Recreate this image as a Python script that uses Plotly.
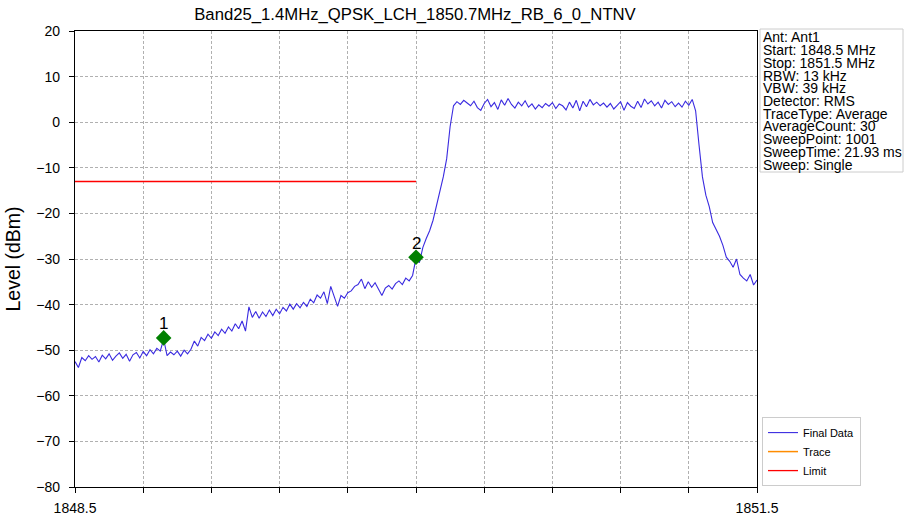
import numpy as np
import plotly.graph_objects as go

title_text = "Band25_1.4MHz_QPSK_LCH_1850.7MHz_RB_6_0_NTNV"
start_mhz = 1848.5
stop_mhz = 1851.5

levels_low = [
    -52.5, -53.8, -51.6, -52.3, -51.2, -52.0, -51.4, -52.6, -51.1, -51.9,
    -50.8, -52.2, -51.3, -50.6, -51.8, -50.9, -52.4, -51.0, -50.5, -51.7,
    -50.3, -51.2, -49.9, -50.8, -49.6, -50.2, -47.6,
    -51.2, -50.4, -51.0, -50.2, -51.3, -50.0, -50.8, -49.8,
    -48.0, -49.1, -47.2, -47.9, -46.5, -47.4, -46.0, -46.8, -45.4, -46.3,
    -44.9, -45.8, -44.2, -45.3, -43.6, -45.8, -40.5,
    -42.8, -41.5, -43.0, -41.6, -42.6, -41.2, -42.4, -41.0, -42.0, -40.6,
    -41.4, -39.9, -41.0, -39.8, -40.7, -39.5, -40.4, -38.8, -39.6, -37.9,
    -38.6, -37.2, -39.8, -36.0, -38.2, -40.4, -38.0, -38.6, -37.4, -37.0,
    -36.0, -35.6, -34.4, -36.5, -35.0, -36.2, -35.2, -36.6, -38.0, -36.4,
    -35.8, -36.6, -35.4, -34.8, -35.6, -34.2, -34.8, -33.6, -29.8,
]
levels_rise = [-30.8, -27.5, -25.5, -23.8, -21.5, -18.5, -15.0, -12.0, -8.0, -1.0, 3.6]
levels_band = [
    4.5, 3.9, 4.8, 4.2, 3.6, 4.6, 3.2, 2.6, 4.1, 5.0,
    3.4, 4.3, 2.8, 4.9, 3.7, 5.2, 3.9, 3.1, 4.4, 3.6,
    4.7, 3.3, 4.0, 2.9, 3.8, 3.2, 4.1, 3.5, 4.3, 3.0,
    4.0, 3.6, 2.7, 4.4, 3.1, 4.8, 2.5, 4.6, 3.4, 5.0,
    3.8, 4.4, 3.6, 4.2, 3.3, 4.1, 2.9, 3.7, 4.5, 2.6,
    4.3, 3.5, 3.0, 4.6, 3.2, 5.1, 4.0, 4.7, 3.6, 4.4,
    3.1, 4.8, 3.9, 4.5, 3.4, 4.2, 3.3, 4.6, 3.7, 5.0,
]
levels_fall = [
    2.5, -5.0, -12.0, -16.0, -18.5, -22.0, -23.5, -25.0, -27.0, -29.6,
    -30.5, -31.8, -30.0, -33.4, -34.2, -34.8, -33.4, -35.7, -34.6,
]
levels = levels_low + levels_rise + levels_band + levels_fall
freqs = np.linspace(start_mhz, stop_mhz, len(levels))

# Limit line
limit_freqs = [1848.5, 1850.0]
limit_levels = [-13.0, -13.0]

# Markers
marker_freqs = [1848.89, 1850.0]
marker_levels = [-47.3, -29.6]
marker_labels = ["1", "2"]

# Axis ticks
x_tick_vals = [1848.5, 1848.8, 1849.1, 1849.4, 1849.7, 1850.0, 1850.3, 1850.6, 1850.9, 1851.2, 1851.5]
x_tick_text = ["1848.5", "", "", "", "", "", "", "", "", "", "1851.5"]
y_tick_vals = [20, 10, 0, -10, -20, -30, -40, -50, -60, -70, -80]

info_lines = [
    "Ant: Ant1",
    "Start: 1848.5 MHz",
    "Stop: 1851.5 MHz",
    "RBW: 13 kHz",
    "VBW: 39 kHz",
    "Detector: RMS",
    "TraceType: Average",
    "AverageCount: 30",
    "SweepPoint: 1001",
    "SweepTime: 21.93 ms",
    "Sweep: Single",
]

FONT = "Liberation Sans, Arial, sans-serif"
W, H = 905, 518
L, R, T, B = 75, 148, 31, 31
PW, PH = W - L - R, H - T - B

fig = go.Figure()
fig.add_trace(go.Scatter(x=freqs, y=levels, mode="lines", name="Final Data",
                         line=dict(color="#3a2be0", width=1.1)))
fig.add_trace(go.Scatter(x=[None], y=[None], mode="lines", name="Trace",
                         line=dict(color="darkorange", width=1.5)))
fig.add_trace(go.Scatter(x=limit_freqs, y=limit_levels, mode="lines", name="Limit",
                         line=dict(color="red", width=1.3)))
fig.add_trace(go.Scatter(x=marker_freqs, y=marker_levels, mode="markers",
                         marker=dict(symbol="diamond", size=12, color="green"),
                         showlegend=False))
for mf, ml, mt in zip(marker_freqs, marker_levels, marker_labels):
    fig.add_annotation(x=mf, y=ml, text=mt, showarrow=False, yshift=14,
                       font=dict(size=17, color="black", family=FONT))

def px_to_paper_y(py):
    return 1 - (py - T) / PH

def px_to_paper_x(px):
    return (px - L) / PW

# Info box
fig.add_shape(type="rect", xref="paper", yref="paper",
              x0=px_to_paper_x(760), x1=px_to_paper_x(903),
              y0=px_to_paper_y(172), y1=px_to_paper_y(29),
              line=dict(color="#cccccc", width=1), fillcolor="white", layer="below")
for i, line in enumerate(info_lines):
    fig.add_annotation(text=line, xref="paper", yref="paper",
                       x=px_to_paper_x(761), y=px_to_paper_y(37.5 + i * 12.7),
                       xanchor="left", yanchor="middle", showarrow=False,
                       font=dict(size=14, color="black", family=FONT))

fig.update_layout(
    width=W, height=H,
    margin=dict(l=L, r=R, t=T, b=B, autoexpand=False),
    paper_bgcolor="white", plot_bgcolor="white",
    font=dict(family=FONT, color="black"),
    title=dict(text=title_text, x=415 / W, xanchor="center",
               y=1 - 14 / H, yanchor="middle", font=dict(size=16.7, family=FONT)),
    showlegend=True,
    legend=dict(x=px_to_paper_x(762), y=0.002, xanchor="left", yanchor="bottom",
                bordercolor="#cccccc", borderwidth=1, bgcolor="white",
                font=dict(size=11, family=FONT), itemwidth=30, tracegroupgap=0),
)
fig.update_xaxes(range=[start_mhz, stop_mhz], tickvals=x_tick_vals, ticktext=x_tick_text,
                 showgrid=True, gridcolor="#b0b0b0", griddash="3px,2px", gridwidth=0.8,
                 showline=True, linecolor="black", linewidth=1.2, mirror=True,
                 ticks="outside", ticklen=5, tickcolor="black", automargin=False,
                 ticklabelstandoff=3,
                 tickfont=dict(size=14), zeroline=False)
fig.update_yaxes(range=[-80, 20], tickvals=y_tick_vals,
                 showgrid=True, gridcolor="#b0b0b0", griddash="3px,2px", gridwidth=0.8,
                 showline=True, linecolor="black", linewidth=1.2, mirror=True,
                 ticks="outside", ticklen=5, tickcolor="black", automargin=False,
                 ticklabelstandoff=6,
                 tickfont=dict(size=14), zeroline=False,
                 title=dict(text="Level (dBm)", font=dict(size=19.5), standoff=10))

fig.write_html("out.html", config={"displayModeBar": False},
               post_script="document.body.style.margin='0';document.body.style.overflow='hidden';")
